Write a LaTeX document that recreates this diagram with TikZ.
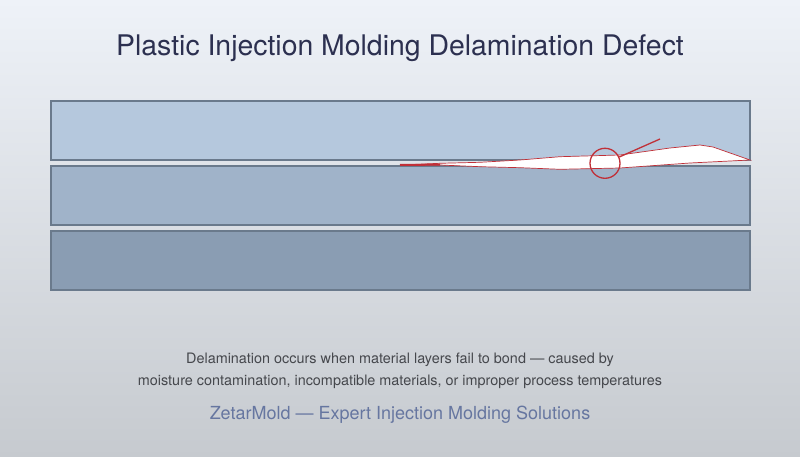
\documentclass[tikz,border=0pt]{standalone}
\usepackage{fontspec}
\setmainfont{TeX Gyre Heros}
\usepackage{tikz}
\usetikzlibrary{positioning}
\definecolor{bgtop}{HTML}{EEF2F8}
\definecolor{bgbottom}{HTML}{C6CACF}
\definecolor{layeredge}{HTML}{6A7A8C}
\definecolor{layerone}{HTML}{B5C8DD}
\definecolor{layertwo}{HTML}{A0B3C9}
\definecolor{layerthree}{HTML}{8A9DB3}
\definecolor{defectred}{HTML}{C03038}
\definecolor{titleink}{HTML}{2C3050}
\definecolor{noteink}{HTML}{45474C}
\definecolor{brandink}{HTML}{6676A0}

\begin{document}
\begin{tikzpicture}[
                x=1pt, y=-1pt,
                layer/.style={draw=layeredge, line width=2pt, minimum width=699pt, minimum height=59pt, inner sep=0pt},
                crack/.style={draw=defectred, line width=1.3pt}]
            \useasboundingbox (0,0) rectangle (800,457);
            \shade[top color=bgtop, bottom color=bgbottom] (0,0) rectangle (800,457);
            \node[font=\fontsize{28.4}{32}\selectfont, text=titleink] (title) at (400,48) {Plastic Injection Molding Delamination Defect};
            \node[layer, fill=layerone] (layer_1) at (400.5,130.5) {};
            \node[layer, fill=layertwo] (layer_2) at (400.5,195.5) {};
            \node[layer, fill=layerthree] (layer_3) at (400.5,260.5) {};
            % delamination gap
            \filldraw[fill=white, draw=defectred, line width=0.7pt]
            (400,165) -- (440,163.3) -- (480,162.3) -- (520,160) -- (560,156.7)
            -- (620,155) -- (670,148) -- (700,145) -- (713,147) -- (750,160)
            -- (690,163) -- (620,168) -- (560,169.3) -- (520,167.7) -- (480,166.7)
            -- (440,165) -- cycle;
            \draw[defectred, line width=2pt] (400,165) -- (440,164.6);
            \node[circle, crack, minimum size=30pt, inner sep=0pt] (crack_zone) at (605,163.3) {};
            \coordinate (crack_tip) at (660,139);
            \draw[crack] (crack_zone) -- (crack_tip);
            \node[font=\fontsize{14.4}{22}\selectfont, text=noteink, align=center] (note) at (400,371)
            {Delamination occurs when material layers fail to bond — caused by\\
             moisture contamination, incompatible materials, or improper process temperatures};
            \node[font=\fontsize{18}{20}\selectfont, text=brandink] (brand) at (400,415) {ZetarMold — Expert Injection Molding Solutions};
        \end{tikzpicture}
\end{document}
